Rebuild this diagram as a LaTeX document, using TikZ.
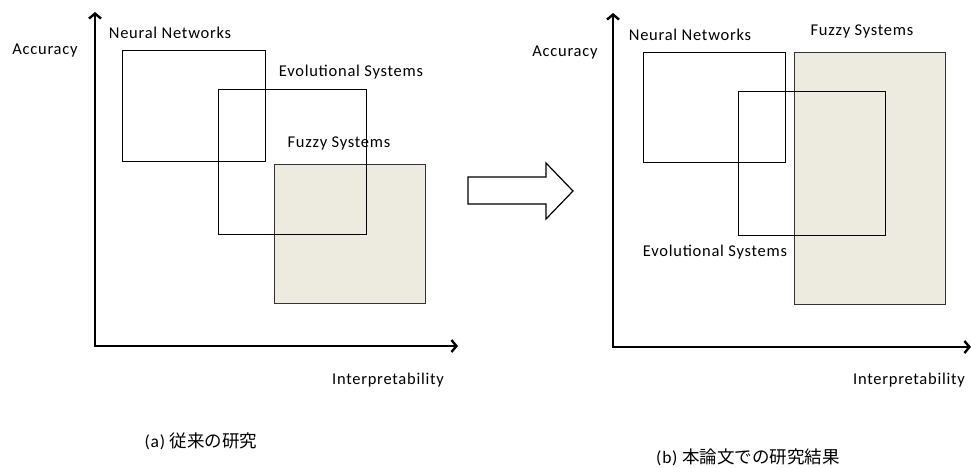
\documentclass[tikz,border=0pt]{standalone}
\usepackage{fontspec}
\setmainfont[LetterSpace=4.5]{Carlito}
\newfontfamily\jafont{Noto Sans CJK JP}
\usetikzlibrary{arrows.meta}
\definecolor{fuzzyfill}{HTML}{EDEAE0}
\tikzset{
  axisline/.style={line width=2.8pt, {Straight Barb[length=5pt,width=12pt,line width=2.4pt]}-{Straight Barb[length=5pt,width=12pt,line width=2.4pt]}},
  region/.style={draw=black, line width=1.1pt, inner sep=0pt, anchor=north west},
  fuzzyregion/.style={region, draw=black!80, fill=fuzzyfill},
  lbl/.style={font=\fontsize{16.5}{18}\selectfont, inner sep=0pt},
  caption/.style={font=\fontsize{17.5}{20}\selectfont, inner sep=0pt},
  blockarrow/.style={draw=black, line width=1.2pt, fill=white, line join=miter},
}
\begin{document}
\begin{tikzpicture}[x=1pt,y=-1pt]
\useasboundingbox (0,0) rectangle (971,467);

% ---------- (a) conventional research ----------
\coordinate (ya) at (95,12);
\coordinate (oa) at (95,346);
\coordinate (xa) at (458,346);
\draw[axisline] (ya) -- (oa) -- (xa);

\node[fuzzyregion, minimum width=151pt, minimum height=139pt] (fza) at (274,164) {};
\node[region, minimum width=143pt, minimum height=111pt] (nna) at (122,50) {};
\node[region, minimum width=148pt, minimum height=145pt] (eva) at (218,89) {};

\node[lbl] (acca) at (45,51) {Accuracy};
\node[lbl] (nnla) at (170,33) {Neural Networks};
\node[lbl] (evla) at (351,72) {Evolutional Systems};
\node[lbl] (fzla) at (339,143) {Fuzzy Systems};
\node[lbl] (inta) at (388,380) {Interpretability};
\node[caption] (capa) at (201,441) {(a) {\jafont 従来の研究}};

% ---------- transition arrow ----------
\draw[blockarrow] (468,177) -- (546,177) -- (546,163) -- (573,191)
  -- (546,219) -- (546,204) -- (468,204) -- cycle;

% ---------- (b) results of this study ----------
\coordinate (yb) at (613,13);
\coordinate (ob) at (613,347);
\coordinate (xb) at (971,347);
\draw[axisline] (yb) -- (ob) -- (xb);

\node[fuzzyregion, minimum width=151pt, minimum height=252pt] (fzb) at (794,52) {};
\node[region, minimum width=142pt, minimum height=110pt] (nnb) at (643,52) {};
\node[region, minimum width=147pt, minimum height=144pt] (evb) at (738,91) {};

\node[lbl] (accb) at (565,53) {Accuracy};
\node[lbl] (nnlb) at (690,35) {Neural Networks};
\node[lbl] (fzlb) at (862,31) {Fuzzy Systems};
\node[lbl] (evlb) at (715,252) {Evolutional Systems};
\node[lbl] (intb) at (909,380) {Interpretability};
\node[caption] (capb) at (748,457) {(b) {\jafont 本論文での研究結果}};
\end{tikzpicture}
\end{document}
